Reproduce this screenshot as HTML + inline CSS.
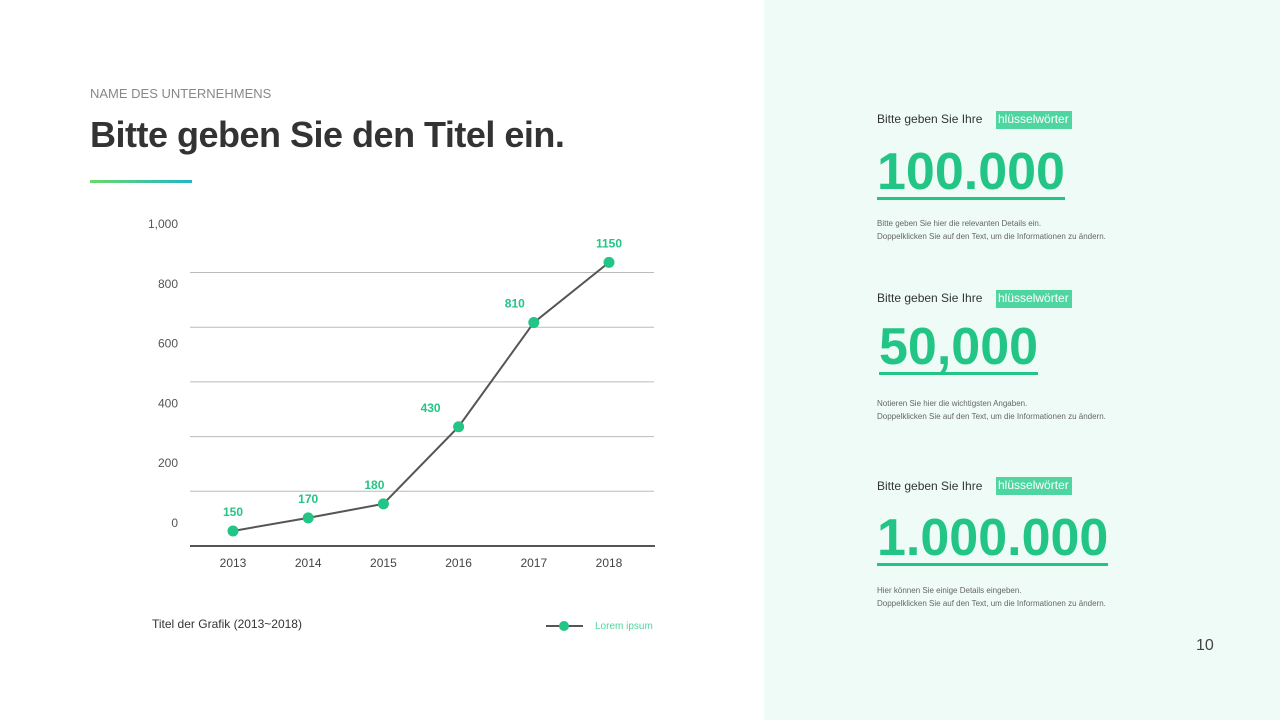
<!DOCTYPE html>
<html><head><meta charset="utf-8"><style>
body{margin:0;width:1280px;height:720px;position:relative;background:#fff;font-family:"Liberation Sans",sans-serif;overflow:hidden}
.abs{position:absolute}
.right{left:764px;top:0;width:516px;height:720px;background:#effbf6}
.kw{font-size:12px;color:#333}
.tag{background:#4fd6a0;color:#fff;font-size:12px;padding:1px 2px;width:76px;height:18px;box-sizing:border-box;overflow:hidden;white-space:nowrap}
.big{font-weight:bold;color:#22c585;font-size:52px;letter-spacing:0;border-bottom:3px solid #22c585;line-height:50px}
.det{font-size:8px;color:#666;line-height:13px}
</style></head><body>
<div class="abs right"></div>
<div class="abs" style="left:90px;top:86px;font-size:13px;color:#888">NAME DES UNTERNEHMENS</div>
<div class="abs" style="left:90px;top:114px;font-size:36px;font-weight:bold;color:#333;letter-spacing:-0.5px">Bitte geben Sie den Titel ein.</div>
<div class="abs" style="left:90px;top:180px;width:102px;height:3px;background:linear-gradient(90deg,#6cd86a,#1fb6c8)"></div>

<svg class="abs" style="left:0;top:0" width="764" height="720" id="chart"></svg>

<div class="abs" style="left:152px;top:617px;font-size:12px;color:#333">Titel der Grafik (2013~2018)</div>
<div class="abs" style="left:546px;top:619px">
<svg width="110" height="12"><line x1="0" y1="6" x2="37" y2="6" stroke="#555" stroke-width="2"/><circle cx="18" cy="6" r="5" fill="#22c585"/><text x="49" y="9" font-size="10" fill="#4fd6a0" font-family="Liberation Sans">Lorem ipsum</text></svg></div>

<div class="abs kw" style="left:877px;top:112px">Bitte geben Sie Ihre</div>
<div class="abs tag" style="left:996px;top:111px">hlüsselwörter</div>
<div class="abs big" style="left:877px;top:147px">100.000</div>
<div class="abs det" style="left:877px;top:217px">Bitte geben Sie hier die relevanten Details ein.<br>Doppelklicken Sie auf den Text, um die Informationen zu ändern.</div>

<div class="abs kw" style="left:877px;top:291px">Bitte geben Sie Ihre</div>
<div class="abs tag" style="left:996px;top:290px">hlüsselwörter</div>
<div class="abs big" style="left:879px;top:322px">50,000</div>
<div class="abs det" style="left:877px;top:397px">Notieren Sie hier die wichtigsten Angaben.<br>Doppelklicken Sie auf den Text, um die Informationen zu ändern.</div>

<div class="abs kw" style="left:877px;top:479px">Bitte geben Sie Ihre</div>
<div class="abs tag" style="left:996px;top:477px">hlüsselwörter</div>
<div class="abs big" style="left:877px;top:513px">1.000.000</div>
<div class="abs det" style="left:877px;top:584px">Hier können Sie einige Details eingeben.<br>Doppelklicken Sie auf den Text, um die Informationen zu ändern.</div>

<div class="abs" style="left:1196px;top:637px;font-size:16px;color:#444">10</div>

<script>
const years = ["2013","2014","2015","2016","2017","2018"];
const plotValues = [55,103,154,436,817,1037];
const valueLabels = ["150","170","180","430","810","1150"];
const yTicks = [0,200,400,600,800,1000];
const yTickLabels = ["0","200","400","600","800","1,000"];
const gridValues = [200,400,600,800,1000];

const svg = document.getElementById('chart');
const NS = 'http://www.w3.org/2000/svg';
const x = i => 233 + i * 75.2;
const y = v => 546 - v * 0.2735;
const yLab = v => 523 - v * 0.299;
const labelShift = [0,0,-9,-28,-19,0];
function mk(t, a, txt){const e=document.createElementNS(NS,t);for(const k in a)e.setAttribute(k,a[k]);if(txt!==undefined)e.textContent=txt;svg.appendChild(e);return e;}

gridValues.forEach(v=>{
  const g=mk('line',{x1:190,x2:654,y1:y(v),y2:y(v),stroke:'#bbb','stroke-width':1});
  
  
});
const ax=mk('line',{x1:190,x2:655,y1:546,y2:546,stroke:'#555','stroke-width':2});



yTicks.forEach((v,i)=>{
  const t=mk('text',{x:178,y:yLab(v)+4,'text-anchor':'end','font-size':12,fill:'#555','font-family':'Liberation Sans'},yTickLabels[i]);
  
  
});
years.forEach((yr,i)=>{
  const t=mk('text',{x:x(i),y:567,'text-anchor':'middle','font-size':12,fill:'#444','font-family':'Liberation Sans'},yr);
  
  
});
const pl=mk('polyline',{points:plotValues.map((v,i)=>x(i)+','+y(v)).join(' '),fill:'none',stroke:'#555','stroke-width':2});


plotValues.forEach((v,i)=>{
  const c=mk('circle',{cx:x(i),cy:y(v),r:5.5,fill:'#22c585'});
  
  
  const t=mk('text',{x:x(i)+labelShift[i],y:y(v)-15,'text-anchor':'middle','font-size':12,'font-weight':'bold',fill:'#22c585','font-family':'Liberation Sans'},valueLabels[i]);
  
  
});
</script>
</body></html>
